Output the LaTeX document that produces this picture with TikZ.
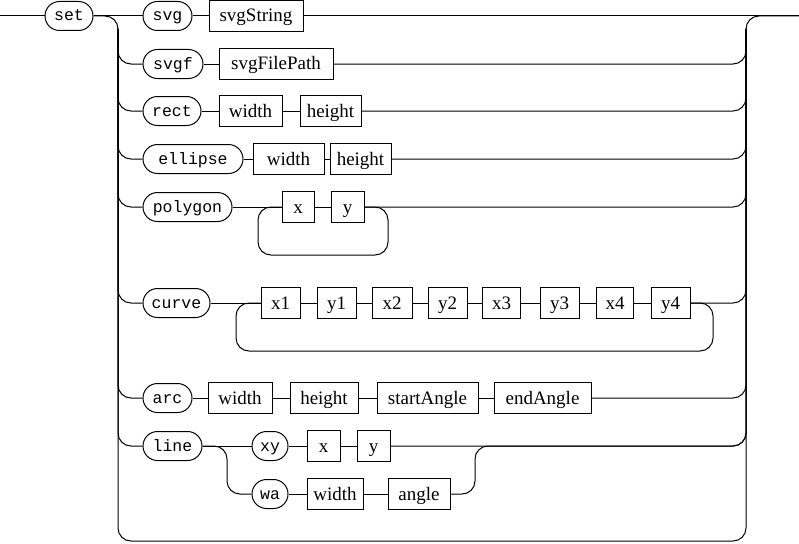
\documentclass[tikz,border=0pt]{standalone}
\usepackage{fontspec}
\newfontfamily\boxfont{Liberation Serif}
\newfontfamily\termfont{Liberation Mono}
\usepackage{tikz}
\usetikzlibrary{positioning}
\tikzset{
  term/.style={draw, line width=1pt, rounded corners=14.5pt, minimum height=29pt,
    inner sep=0pt, text height=10pt, text depth=0pt,
    font={\termfont\fontsize{16.5}{18}\selectfont}},
  nonterm/.style={draw, line width=1pt, minimum height=31pt, inner sep=0pt,
    text height=13pt, text depth=1pt,
    font={\boxfont\fontsize{19}{22}\selectfont}},
  rail/.style={line width=1pt, rounded corners=13pt},
}

\begin{document}
\begin{tikzpicture}[x=1pt, y=-1pt]
  \useasboundingbox (0,0) rectangle (799,543);
  % ends of the rail and the two buses
  \coordinate (in) at (0,16);%
  \coordinate (out) at (799,16);%
  \coordinate (ltop) at (118,29);%
  \coordinate (rtop) at (746,29);%
  \coordinate (lbot) at (118,541);%
  \coordinate (rbot) at (746,541);%
  % set
  \node[term, minimum width=48pt] (set) at (69,16) {set};%
  % svg
  \node[term, minimum width=49pt] (svg) at (167.5,16) {svg};%
  \node[nonterm, minimum width=94pt] (svgstr) at (256,16) {svgString};%
  % svgf
  \node[term, minimum width=60pt] (svgf) at (173,64) {svgf};%
  \node[nonterm, minimum width=114pt] (svgpath) at (276,64) {svgFilePath};%
  % rect
  \node[term, minimum width=58pt] (rect) at (172,111) {rect};%
  \node[nonterm, minimum width=63pt] (rectw) at (250.5,111) {width};%
  \node[nonterm, minimum width=61pt] (recth) at (330.5,111) {height};%
  % ellipse
  \node[term, minimum width=100pt] (ellipse) at (193,159) {ellipse};%
  \node[nonterm, minimum width=71pt] (ellw) at (288.5,159) {width};%
  \node[nonterm, minimum width=61pt] (ellh) at (360.5,159) {height};%
  % polygon
  \node[term, minimum width=89pt] (polygon) at (187.5,207) {polygon};%
  \node[nonterm, minimum width=32pt] (polyx) at (298,207) {x};%
  \node[nonterm, minimum width=33pt] (polyy) at (347.5,207) {y};%
  \coordinate (polybot) at (388,255);%
  \coordinate (polyleft) at (258,207);%
  % curve
  \node[term, minimum width=67pt] (curve) at (176.5,303) {curve};%
  \node[nonterm, minimum width=39pt] (cx1) at (280.5,303) {x1};%
  \node[nonterm, minimum width=39pt] (cy1) at (336.5,303) {y1};%
  \node[nonterm, minimum width=40pt] (cx2) at (392,303) {x2};%
  \node[nonterm, minimum width=39pt] (cy2) at (447.5,303) {y2};%
  \node[nonterm, minimum width=38pt] (cx3) at (501.5,303) {x3};%
  \node[nonterm, minimum width=39pt] (cy3) at (559.5,303) {y3};%
  \node[nonterm, minimum width=37pt] (cx4) at (615,303) {x4};%
  \node[nonterm, minimum width=39pt] (cy4) at (670.5,303) {y4};%
  \coordinate (curvebot) at (713,351);%
  \coordinate (curveleft) at (236,303);%
  % arc
  \node[term, minimum width=49pt] (arc) at (167.5,398) {arc};%
  \node[nonterm, minimum width=64pt] (arcw) at (240,398) {width};%
  \node[nonterm, minimum width=68pt] (arch) at (324,398) {height};%
  \node[nonterm, minimum width=101pt] (arcs) at (427.5,398) {startAngle};%
  \node[nonterm, minimum width=97pt] (arce) at (542.5,398) {endAngle};%
  % line
  \node[term, minimum width=59pt] (line) at (172.5,446) {line};%
  \node[term, minimum width=36pt] (xy) at (270,446) {xy};%
  \node[nonterm, minimum width=33pt] (xyx) at (323.5,446) {x};%
  \node[nonterm, minimum width=33pt] (xyy) at (373.5,446) {y};%
  \node[term, minimum width=36pt] (wa) at (270,494) {wa};%
  \node[nonterm, minimum width=56pt] (waw) at (335,494) {width};%
  \node[nonterm, minimum width=62pt] (waa) at (419,494) {angle};%
  \coordinate (split) at (227,494);%
  \coordinate (join) at (475,446);%
  % main rail and buses
  \draw[rail] (in) -- (set.west);%
  \draw[rail] (set.east) -- (svg.west);%
  \draw[rail] (svg.east) -- (svgstr.west);%
  \draw[rail] (svgstr.east) -- (out);%
  \draw[rail] (set.east) -| (lbot) -- (rbot) |- (out);%
  % svgf
  \draw[rail] (ltop) |- (svgf.west);%
  \draw[rail] (svgf.east) -- (svgpath.west);%
  \draw[rail] (svgpath.east) -| (rtop);%
  % rect
  \draw[rail] (ltop) |- (rect.west);%
  \draw[rail] (rect.east) -- (rectw.west);%
  \draw[rail] (rectw.east) -- (recth.west);%
  \draw[rail] (recth.east) -| (rtop);%
  % ellipse
  \draw[rail] (ltop) |- (ellipse.west);%
  \draw[rail] (ellipse.east) -- (ellw.west);%
  \draw[rail] (ellw.east) -- (ellh.west);%
  \draw[rail] (ellh.east) -| (rtop);%
  % polygon, with its loop back
  \draw[rail] (ltop) |- (polygon.west);%
  \draw[rail] (polygon.east) -- (polyx.west);%
  \draw[rail] (polyx.east) -- (polyy.west);%
  \draw[rail] (polyy.east) -| (rtop);%
  \draw[rail] (polyy.east) -| (polybot) -| (polyleft) -- (polyx.west);%
  % curve, with its loop back
  \draw[rail] (ltop) |- (curve.west);%
  \draw[rail] (curve.east) -- (cx1.west);%
  \foreach \a/\b in {cx1/cy1, cy1/cx2, cx2/cy2, cy2/cx3, cx3/cy3, cy3/cx4, cx4/cy4}
    \draw[rail] (\a.east) -- (\b.west);%
  \draw[rail] (cy4.east) -| (rtop);%
  \draw[rail] (cy4.east) -| (curvebot) -| (curveleft) -- (cx1.west);%
  % arc
  \draw[rail] (ltop) |- (arc.west);%
  \draw[rail] (arc.east) -- (arcw.west);%
  \draw[rail] (arcw.east) -- (arch.west);%
  \draw[rail] (arch.east) -- (arcs.west);%
  \draw[rail] (arcs.east) -- (arce.west);%
  \draw[rail] (arce.east) -| (rtop);%
  % line, xy or wa
  \draw[rail] (ltop) |- (line.west);%
  \draw[rail] (line.east) -- (xy.west);%
  \draw[rail] (xy.east) -- (xyx.west);%
  \draw[rail] (xyx.east) -- (xyy.west);%
  \draw[rail] (xyy.east) -| (rtop);%
  \draw[rail] (line.east) -| (split) -- (wa.west);%
  \draw[rail] (wa.east) -- (waw.west);%
  \draw[rail] (waw.east) -- (waa.west);%
  \draw[rail] (waa.east) -| (join) -| (rtop);%
\end{tikzpicture}
\end{document}
